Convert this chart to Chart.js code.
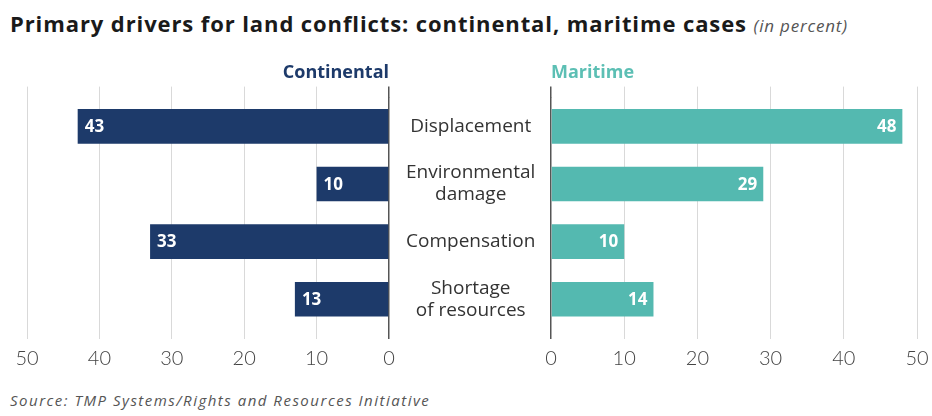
<!DOCTYPE html>
<html>
<head>
<meta charset="utf-8">
<script src="https://cdn.jsdelivr.net/npm/chart.js@4/dist/chart.umd.min.js"></script>
<style>
  html, body { overflow: hidden; }
  body { margin: 0; background: #fff; width: 932px; height: 416px; position: relative; font-family: "Open Sans", Lato, sans-serif; }
  #title { position: absolute; left: 10px; top: 8px; font-size: 22px; font-weight: 700; letter-spacing: 0.9px; color: #1a1a1a; white-space: nowrap; }
  #title span { font-size: 17px; font-weight: 400; font-style: italic; letter-spacing: 0.8px; color: #555; }
  #source { position: absolute; left: 10px; top: 390px; font-size: 15px; font-style: italic; letter-spacing: 1.5px; color: #555; white-space: nowrap; }
  #leftChart { position: absolute; left: 0; top: 55px; }
  #rightChart { position: absolute; left: 520px; top: 55px; }
</style>
</head>
<body>
<div id="title">Primary drivers for land conflicts: continental, maritime cases <span>(in percent)</span></div>
<canvas id="leftChart" width="551" height="324"></canvas>
<canvas id="rightChart" width="420" height="324"></canvas>
<div id="source">Source: TMP Systems/Rights and Resources Initiative</div>
<script>
const categories = ['Displacement', ['Environmental', 'damage'], 'Compensation', ['Shortage', 'of resources']];
const continental = [43, 10, 33, 13];
const maritime = [48, 29, 10, 14];
const axisMax = 50;

const navy = '#1d3a6a';
const teal = '#54b9b0';
const tickFont = { family: 'Lato, sans-serif', size: 20, weight: '300' };
const gridColor = ctx => ctx.tick && ctx.tick.value === 0 ? '#555555' : '#d9d9d9';
const gridWidth = ctx => ctx.tick && ctx.tick.value === 0 ? 1.5 : 1;

// values written inside the bar ends
const barLabels = {
    id: 'barLabels',
    afterDatasetsDraw(chart, args, opts) {
        const ctx = chart.ctx;
        const meta = chart.getDatasetMeta(0);
        ctx.save();
        ctx.fillStyle = '#ffffff';
        ctx.font = 'bold 17px "Open Sans", Lato, sans-serif';
        ctx.textBaseline = 'middle';
        meta.data.forEach((bar, i) => {
            const v = chart.data.datasets[0].data[i];
            if (opts.side === 'left') {
                ctx.textAlign = 'left';
                ctx.fillText(v, bar.x + 7, bar.y + 1);
            } else {
                ctx.textAlign = 'right';
                ctx.fillText(v, bar.x - 6, bar.y + 1);
            }
        });
        ctx.restore();
    }
};

function xScales(reverse) {
    return {
        x: {
            min: 0, max: axisMax, reverse: reverse,
            ticks: { stepSize: 10, padding: 8, color: '#444', font: tickFont },
            grid: { color: gridColor, lineWidth: gridWidth, tickLength: 11 },
            border: { display: false }
        },
        xTop: {
            axis: 'x', position: 'top',
            min: 0, max: axisMax, reverse: reverse,
            ticks: { stepSize: 10, display: false },
            grid: { color: gridColor, lineWidth: gridWidth, tickLength: 11, drawOnChartArea: false },
            border: { display: false }
        }
    };
}

function seriesTitle(text, align, color) {
    return {
        display: true, text: text, align: align, fullSize: false, color: color,
        font: { family: '"Open Sans", Lato, sans-serif', size: 18, weight: 'bold' },
        padding: { top: 7, bottom: 3 }
    };
}

new Chart(document.getElementById('leftChart'), {
    type: 'bar',
    data: {
        labels: categories,
        datasets: [{ label: 'Continental', data: continental, backgroundColor: navy, barPercentage: 0.6, categoryPercentage: 1 }]
    },
    plugins: [barLabels],
    options: {
        indexAxis: 'y',
        responsive: false,
        animation: false,
        layout: { padding: { left: 27, right: 0, top: 0, bottom: 0 } },
        scales: Object.assign(xScales(true), {
            y: {
                position: 'right',
                ticks: { crossAlign: 'center', padding: 17, color: '#333', font: { family: '"Open Sans", Lato, sans-serif', size: 19, lineHeight: 1.16 } },
                grid: { display: false, drawTicks: false },
                border: { display: false },
                afterFit: scale => { scale.width = 162; }
            }
        }),
        plugins: {
            legend: { display: false },
            tooltip: { enabled: false },
            title: seriesTitle('Continental', 'end', navy),
            barLabels: { side: 'left' }
        }
    }
});

new Chart(document.getElementById('rightChart'), {
    type: 'bar',
    data: {
        labels: categories,
        datasets: [{ label: 'Maritime', data: maritime, backgroundColor: teal, barPercentage: 0.6, categoryPercentage: 1 }]
    },
    plugins: [barLabels],
    options: {
        indexAxis: 'y',
        responsive: false,
        animation: false,
        layout: { padding: { left: 31, right: 23, top: 0, bottom: 0 } },
        scales: Object.assign(xScales(false), {
            y: { display: false }
        }),
        plugins: {
            legend: { display: false },
            tooltip: { enabled: false },
            title: seriesTitle('Maritime', 'start', '#5cbfb4'),
            barLabels: { side: 'right' }
        }
    }
});
</script>
</body>
</html>
